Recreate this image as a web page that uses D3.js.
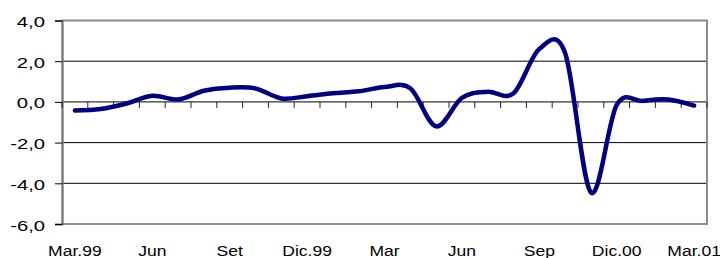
<!DOCTYPE html>
<html>
<head>
<meta charset="utf-8">
<script src="https://cdn.jsdelivr.net/npm/d3@7/dist/d3.min.js"></script>
<style>
  html, body { margin: 0; padding: 0; background: #fff; }
  svg { display: block; }
  text { font-family: "Liberation Sans", Arial, sans-serif; fill: #000; }
</style>
</head>
<body>
<svg id="chart" width="720" height="258"></svg>
<script>
// Monthly categories, Mar.99 – Mar.01
const months = ["Mar.99","Abr","May","Jun","Jul","Ago","Set","Oct","Nov","Dic.99","Ene","Feb",
                "Mar","Abr","May","Jun","Jul","Ago","Sep","Oct","Nov","Dic.00","Ene","Feb","Mar.01"];
// Values
const values = [-0.42,-0.35,-0.08,0.30,0.12,0.55,0.70,0.66,0.17,0.28,0.42,0.52,
                0.73,0.67,-1.20,0.20,0.50,0.42,2.60,2.40,-4.45,-0.15,0.05,0.12,-0.18];
// Axis labels
const xLabelIdx = [0,3,6,9,12,15,18,21,24];
const yTicks = [-6,-4,-2,0,2,4];

const svg = d3.select("#chart");
const L = 62, R = 707, T = 20.5, B = 224;

const x = d3.scaleBand().domain(d3.range(months.length)).range([L, R]).padding(0);
const cx = i => x(i) + x.bandwidth() / 2;
const y = d3.scaleLinear().domain([-6, 4]).range([B, T]);

// gridlines
svg.append("g").selectAll("line").data(yTicks.filter(v => v > -6 && v < 4)).join("line")
  .attr("x1", L).attr("x2", R)
  .attr("y1", d => y(d)).attr("y2", d => y(d))
  .attr("stroke", "#000").attr("stroke-width", 1);

// plot border (top, right, bottom)
svg.append("path")
  .attr("d", `M${L},${y(4)}H${R}V${y(-6)}H${L}`)
  .attr("fill", "none").attr("stroke", "#8c8c8c").attr("stroke-width", 2);

// y axis
const yAxis = d3.axisLeft(y).tickValues(yTicks).tickSize(7).tickPadding(0)
  .tickFormat(d => d.toFixed(1).replace(".", ","));
const gy = svg.append("g").attr("transform", `translate(${L},0)`).call(yAxis);
gy.select(".domain").attr("stroke", "#6e6e6e").attr("stroke-width", 2.2);
gy.selectAll(".tick line").attr("stroke", "#000");
gy.selectAll(".tick text")
  .attr("x", null).attr("dy", null).attr("text-anchor", "end")
  .style("font-size", "15px")
  .attr("transform", "translate(-17,6) scale(1.35,1)");

// x axis ticks at zero line (between categories)
const bounds = d3.range(months.length + 1).map(i => i < months.length ? x(i) : R);
svg.append("g").selectAll("line").data(bounds).join("line")
  .attr("x1", d => d).attr("x2", d => d)
  .attr("y1", y(0)).attr("y2", y(0) + 6)
  .attr("stroke", "#222").attr("stroke-width", 1);

// x labels
svg.append("g").selectAll("text").data(xLabelIdx).join("text")
  .attr("text-anchor", "middle")
  .style("font-size", "15px")
  .attr("transform", i => `translate(${cx(i)},256) scale(1.17,1)`)
  .text(i => months[i]);

// line
const line = d3.line().x((d, i) => cx(i)).y(d => y(d)).curve(d3.curveCardinal.tension(0));
svg.append("path").datum(values)
  .attr("d", line)
  .attr("fill", "none").attr("stroke", "#000080").attr("stroke-width", 4.5)
  .attr("stroke-linecap", "round").attr("stroke-linejoin", "round");
</script>
</body>
</html>
